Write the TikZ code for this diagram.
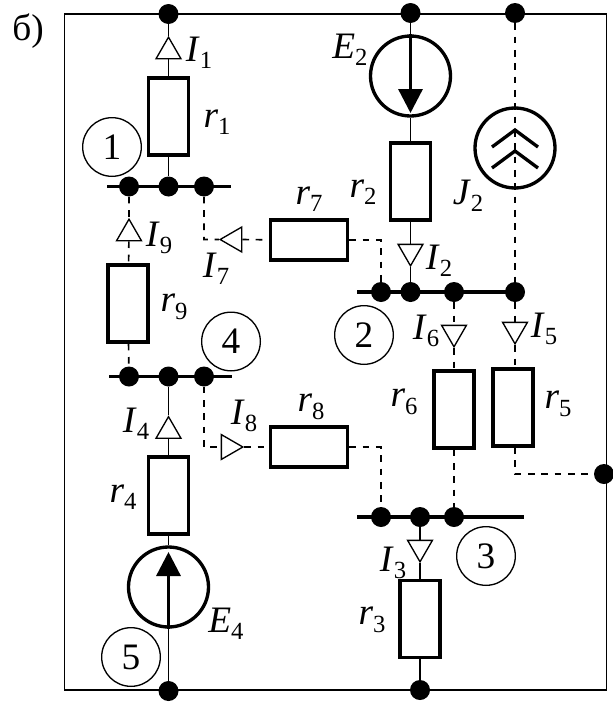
\documentclass[tikz,border=0pt]{standalone}
\usepackage{fontspec}
\setmainfont{Liberation Serif}
\usetikzlibrary{shapes.geometric,arrows.meta}
\newcommand{\lab}[2]{\textit{#1}\raisebox{-0.2em}{\fontsize{18.5}{19}\selectfont #2}}

\begin{document}
\begin{tikzpicture}[
		x=0.75pt, y=-0.75pt,
		every node/.style={inner sep=0pt, font=\fontsize{28}{30}\selectfont},
		res/.style={rectangle, draw, line width=2.5pt, minimum width=30pt, minimum height=57.75pt},
		resh/.style={rectangle, draw, line width=2.5pt, minimum width=57.75pt, minimum height=30pt},
		dot/.style={circle, fill, minimum size=15pt},
		num/.style={circle, draw, line width=1pt, minimum size=44pt},
		source/.style={circle, draw, line width=2.5pt, minimum size=60pt},
		tri/.style={regular polygon, regular polygon sides=3, draw, line width=1pt, minimum size=21.5pt},
		wire/.style={line width=1.25pt},
		dwire/.style={line width=1.25pt, dash pattern=on 5pt off 5pt},
		bus/.style={line width=2.5pt},
		emf/.style={line width=2.5pt, -{Triangle[length=18pt, width=18pt]}},
		chevron/.style={line width=2.5pt}
	]
  \useasboundingbox (0,0) rectangle (613,703);
  \draw[wire] (64.5,14) rectangle (606.5,690);
  % nodes on the frame
  \node (top_1) [dot] at (168.5,14) {};
  \node (top_2) [dot] at (410.5,13) {};
  \node (top_3) [dot] at (515,13) {};
  \node (bot_1) [dot] at (168.5,691) {};
  \node (bot_2) [dot] at (420,690) {};
  \node (right_1) [dot] at (604,474) {};
  % buses
  \coordinate (bus_1_l) at (107,186.5);
  \coordinate (bus_1_r) at (231,186.5);
  \coordinate (bus_2_l) at (357,292);
  \coordinate (bus_2_r) at (515,292);
  \coordinate (bus_3_l) at (357,517);
  \coordinate (bus_3_r) at (524,517);
  \coordinate (bus_4_l) at (109,376.5);
  \coordinate (bus_4_r) at (232,376.5);
  \draw[bus] (bus_1_l) -- (bus_1_r);
  \draw[bus] (bus_2_l) -- (bus_2_r);
  \draw[bus] (bus_3_l) -- (bus_3_r);
  \draw[bus] (bus_4_l) -- (bus_4_r);
  \node (n1_a) [dot] at (129,186.5) {};
  \node (n1_b) [dot] at (168.5,186.5) {};
  \node (n1_c) [dot] at (204,186.5) {};
  \node (n2_a) [dot] at (381,292) {};
  \node (n2_b) [dot] at (410.5,292) {};
  \node (n2_c) [dot] at (454,292) {};
  \node (n2_d) [dot] at (515,292) {};
  \node (n3_a) [dot] at (381,517) {};
  \node (n3_b) [dot] at (420,517) {};
  \node (n3_c) [dot] at (454,517) {};
  \node (n4_a) [dot] at (129,376.5) {};
  \node (n4_b) [dot] at (168.5,376.5) {};
  \node (n4_c) [dot] at (204,376.5) {};
  % resistors
  \node (r_1) [res] at (168.5,116.5) {};
  \node (r_2) [res] at (410.5,181.5) {};
  \node (r_3) [res] at (420,619) {};
  \node (r_4) [res] at (168.5,495.5) {};
  \node (r_5) [res] at (513,407.5) {};
  \node (r_6) [res] at (454,409.5) {};
  \node (r_7) [resh] at (309,240) {};
  \node (r_8) [resh] at (309,447) {};
  \node (r_9) [res] at (128,303.5) {};
  % sources
  \node (E_2) [source] at (410.5,76) {};
  \node (E_4) [source] at (168.5,587) {};
  \node (J_2) [source] at (515,148) {};
  \coordinate (E_2_tip) at (410.5,113);
  \coordinate (E_4_tip) at (168.5,552);
  % current arrows
  \node (I_1) [tri] at (168.5,51.5) {};
  \node (I_2) [tri, shape border rotate=180] at (410.5,251.5) {};
  \node (I_3) [tri, shape border rotate=180] at (420,547.5) {};
  \node (I_4) [tri] at (168.5,431) {};
  \node (I_5) [tri, shape border rotate=180] at (515,329.5) {};
  \node (I_6) [tri, shape border rotate=180] at (454,332.5) {};
  \node (I_7) [tri, shape border rotate=90] at (234.5,239.5) {};
  \node (I_8) [tri, shape border rotate=270] at (228.5,447) {};
  \node (I_9) [tri] at (129,233.5) {};
  \coordinate (c_7) at (204,239.5);
  \coordinate (c_8) at (204,447);
  \coordinate (c_72) at (381,240);
  \coordinate (c_82) at (381,447);
  \coordinate (c_5) at (515,474);
  % solid branches
  \draw[wire] (top_1) -- (I_1) -- (r_1) -- (n1_b);
  \draw[wire] (top_2) -- (E_2) -- (r_2) -- (I_2) -- (n2_b);
  \draw[wire] (n3_b) -- (I_3) -- (r_3) -- (bot_2);
  \draw[wire] (n4_b) -- (I_4) -- (r_4) -- (E_4);
  \draw[wire] (E_4) -- (bot_1);
  \draw[emf] (E_2.north) -- (E_2_tip);
  \draw[emf] (E_4.south) -- (E_4_tip);
  % dashed branches
  \draw[dwire] (top_3) -- (n2_d);
  \draw[dwire] (n2_d) -- (I_5) -- (515,368);
  \draw[dwire] (515,447) -- (c_5) -- (right_1);
  \draw[dwire] (n2_c) -- (I_6) -- (r_6) -- (n3_c);
  \draw[dwire] (n1_a) -- (I_9) -- (r_9) -- (n4_a);
  \draw[dwire] (n1_c) -- (c_7) -- (I_7) -- (r_7);
  \draw[dwire] (r_7) -- (c_72) -- (n2_a);
  \draw[dwire] (n4_c) -- (c_8) -- (I_8) -- (r_8);
  \draw[dwire] (r_8) -- (c_82) -- (n3_a);
  % chevrons of J2
  \draw[chevron] (492,147) -- (515,130) -- (538,147);
  \draw[chevron] (492,168) -- (515,151) -- (538,168);
  % numbered nodes
  \node (num_1) [num] at (112,147) {1};
  \node (num_2) [num] at (364,335) {2};
  \node (num_3) [num] at (486,556) {3};
  \node (num_4) [num] at (231,341.5) {4};
  \node (num_5) [num] at (131,657) {5};
  % labels
  \node (fig_label) at (28,31) {б)};
  \node (E_2_label) at (350,50) {\lab{E}{2}};
  \node (E_4_label) at (226,624) {\lab{E}{4}};
  \node (J_2_label) at (468,196) {\lab{J}{2}};
  \node (r_1_label) at (217,122) {\lab{r}{1}};
  \node (r_2_label) at (363,192) {\lab{r}{2}};
  \node (r_3_label) at (372,620) {\lab{r}{3}};
  \node (r_4_label) at (123,497) {\lab{r}{4}};
  \node (r_5_label) at (558,404) {\lab{r}{5}};
  \node (r_6_label) at (404,402) {\lab{r}{6}};
  \node (r_7_label) at (309,199) {\lab{r}{7}};
  \node (r_8_label) at (311,407) {\lab{r}{8}};
  \node (r_9_label) at (174,307) {\lab{r}{9}};
  \node (I_1_label) at (199,53) {\lab{I}{1}};
  \node (I_2_label) at (439,261) {\lab{I}{2}};
  \node (I_3_label) at (393,563) {\lab{I}{3}};
  \node (I_4_label) at (136,424) {\lab{I}{4}};
  \node (I_5_label) at (544,329) {\lab{I}{5}};
  \node (I_6_label) at (426,331) {\lab{I}{6}};
  \node (I_7_label) at (216,269) {\lab{I}{7}};
  \node (I_8_label) at (244,416) {\lab{I}{8}};
  \node (I_9_label) at (159,238) {\lab{I}{9}};
\end{tikzpicture}
\end{document}
